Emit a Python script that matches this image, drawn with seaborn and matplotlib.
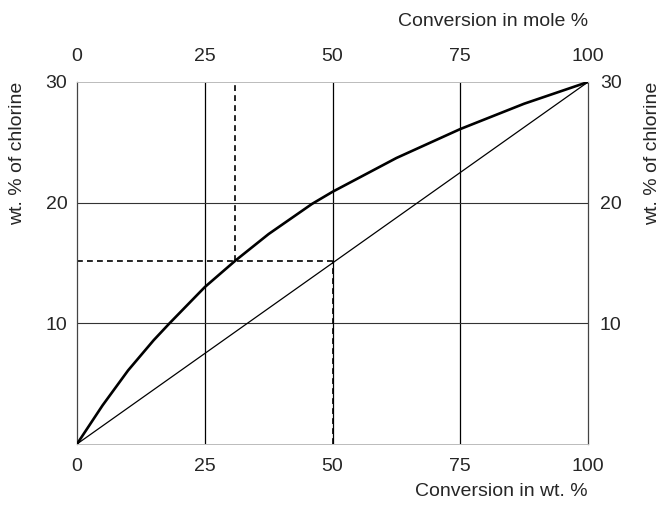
import numpy as np
import pandas as pd
import matplotlib
matplotlib.use("Agg")
import matplotlib.pyplot as plt
import seaborn as sns

# values
conv_ticks = [0, 25, 50, 75, 100]
chlorine_ticks = [10, 20, 30]

# curve: conversion in mole % -> wt. % of chlorine
mole_conv = [0, 5, 10, 15, 18.1, 25, 31, 37.5, 46, 50, 62.5, 75, 87.5, 100]
mole_chlorine = [0, 3.2, 6.1, 8.6, 10.0, 13.0, 15.2, 17.4, 19.9, 20.9, 23.7, 26.1, 28.2, 30.0]

# straight line: conversion in wt. % -> wt. % of chlorine
wt_conv = [0, 100]
wt_chlorine = [0, 30]

# dashed read-off example
pick_mole = 31
pick_chlorine = 15.2
pick_wt = 50

sns.set_style("white")
plt.rcParams["font.family"] = ["Liberation Sans", "DejaVu Sans"]
plt.rcParams["font.size"] = 14

W, H = 663, 505
fig = plt.figure(figsize=(W / 100, H / 100), dpi=100)
x0, x1, y0, y1 = 77, 588, 82, 444
ax = fig.add_axes([x0 / W, 1 - y1 / H, (x1 - x0) / W, (y1 - y0) / H])

# grid
for v in [25, 50, 75]:
    ax.axvline(v, color="black", lw=0.9, zorder=1)
for h in [10, 20]:
    ax.axhline(h, color="#333333", lw=0.8, zorder=1)

df_curve = pd.DataFrame({"x": mole_conv, "y": mole_chlorine})
df_line = pd.DataFrame({"x": wt_conv, "y": wt_chlorine})
sns.lineplot(data=df_curve, x="x", y="y", ax=ax, color="black", lw=1.9, sort=False, zorder=3)
sns.lineplot(data=df_line, x="x", y="y", ax=ax, color="black", lw=0.9, sort=False, zorder=3)

dash = dict(color="black", lw=1.2, linestyles=(0, (3.5, 2.5)), zorder=2)
ax.vlines(pick_mole, pick_chlorine, 30, **dash)
ax.hlines(pick_chlorine, 0, pick_wt, **dash)
ax.vlines(pick_wt, 0, pick_chlorine, **dash)

ax.set_xlim(0, 100)
ax.set_ylim(0, 30)
ax.set_xticks(conv_ticks)
ax.set_yticks(chlorine_ticks)
ax.set_xlabel("")
ax.set_ylabel("")
ax.tick_params(axis="x", length=0, pad=10, labelsize=14)
ax.tick_params(axis="y", length=0, pad=7, labelsize=14)

for side in ["left", "right"]:
    ax.spines[side].set_visible(True)
    ax.spines[side].set_color("#444444")
    ax.spines[side].set_linewidth(0.9)
for side in ["top", "bottom"]:
    ax.spines[side].set_visible(True)
    ax.spines[side].set_color("#bbbbbb")
    ax.spines[side].set_linewidth(0.7)

top = ax.secondary_xaxis("top")
top.set_xticks(conv_ticks)
top.tick_params(length=0, pad=12, labelsize=14)
top.spines["top"].set_visible(False)

right = ax.secondary_yaxis("right")
right.set_yticks(chlorine_ticks)
right.tick_params(length=0, pad=8.5, labelsize=14)
right.spines["right"].set_visible(False)

fig.text(x1 / W, 1 - 22 / H, "Conversion in mole %", ha="right", va="center", fontsize=14)
fig.text(x1 / W, 1 - 492 / H, "Conversion in wt. %", ha="right", va="center", fontsize=14)
fig.text(18 / W, 1 - y0 / H, "wt. % of chlorine", rotation=90, ha="center", va="top", fontsize=14)
fig.text(653 / W, 1 - y0 / H, "wt. % of chlorine", rotation=90, ha="center", va="top", fontsize=14)

fig.savefig("out.png", dpi=100)
